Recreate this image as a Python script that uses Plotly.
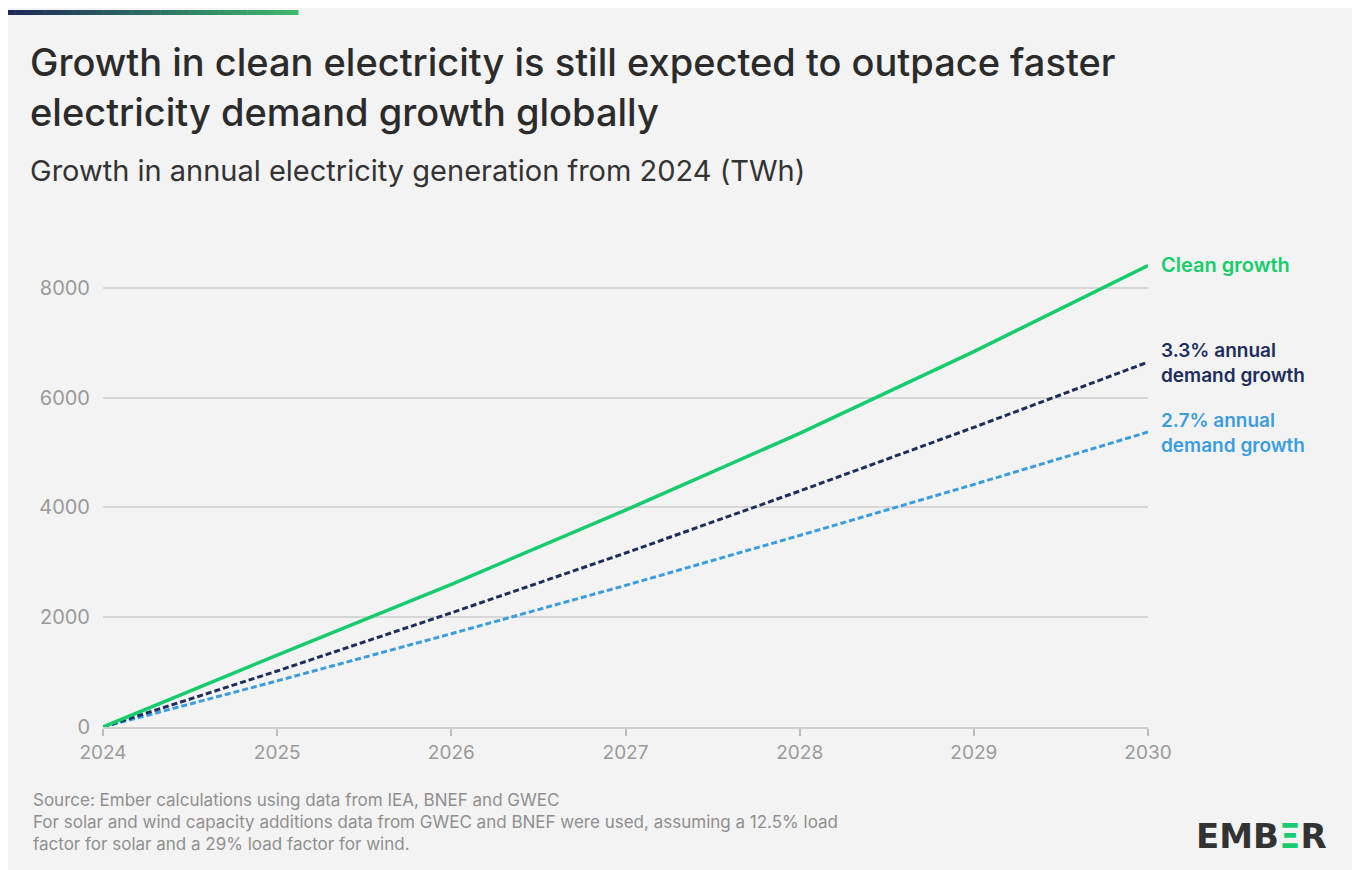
import plotly.graph_objects as go

years = [2024, 2025, 2026, 2027, 2028, 2029, 2030]
clean_growth = [0, 1310, 2600, 3950, 5350, 6840, 8410]
demand_33 = [0, 1020, 2080, 3170, 4300, 5460, 6650]
demand_27 = [0, 840, 1700, 2580, 3490, 4420, 5375]
y_ticks = [0, 2000, 4000, 6000, 8000]

title_lines = ["Growth in clean electricity is still expected to outpace faster",
               "electricity demand growth globally"]
subtitle = "Growth in annual electricity generation from 2024 (TWh)"
source_lines = ["Source: Ember calculations using data from IEA, BNEF and GWEC",
                "For solar and wind capacity additions data from GWEC and BNEF were used, assuming a 12.5% load",
                "factor for solar and a 29% load factor for wind."]
series_labels = ["Clean growth", "3.3% annual<br>demand growth", "2.7% annual<br>demand growth"]

GREEN = "#17cc6c"
NAVY = "#1d2d5c"
BLUE = "#3a9de2"
FONT = "Inter, Lato, 'Noto Sans', sans-serif"

W, H = 1360, 870
OFF = 8  # page body margin
ml, mr, mt, mb = 95, 220, 242, 151


def sx(px):  # screen px -> paper x
    return (px - OFF - ml) / (W - ml - mr)


def sy(py):  # screen px -> paper y
    return (H - mb - (py - OFF)) / (H - mt - mb)


fig = go.Figure()
fig.add_trace(go.Scatter(x=years, y=demand_27, mode="lines",
                         line=dict(color=BLUE, width=3, dash="6px,3px"), hoverinfo="skip"))
fig.add_trace(go.Scatter(x=years, y=demand_33, mode="lines",
                         line=dict(color=NAVY, width=3, dash="6px,3px"), hoverinfo="skip"))
fig.add_trace(go.Scatter(x=years, y=clean_growth, mode="lines",
                         line=dict(color=GREEN, width=3.5), hoverinfo="skip"))

anns = []


def text(xpx, ypx, txt, size, color, family=FONT, weight=None, xanchor="left"):
    f = dict(family=family, size=size, color=color)
    if weight:
        f["weight"] = weight
    anns.append(dict(x=sx(xpx), y=sy(ypx), xref="paper", yref="paper", text=txt,
                     showarrow=False, xanchor=xanchor, yanchor="middle", align="left", font=f))


# end-of-line labels
text(1159, 265, series_labels[0], 20, GREEN, weight=600)
text(1159, 363, series_labels[1], 19, NAVY, weight=600)
text(1159, 433, series_labels[2], 19, BLUE, weight=600)

# titles
text(28, 62, title_lines[0], 38, "#2b2b2b", weight=500)
text(28, 112, title_lines[1], 38, "#2b2b2b", weight=500)
text(28, 170, subtitle, 29, "#333333")

# source
text(31, 822, "<br>".join(source_lines), 17, "#8f8f8f")

# logo
text(1329, 836, "<b>EMB<span style='color:#17cc6c'>Ξ</span>R</b>", 34, "#333333",
     family="'DejaVu Sans', sans-serif", xanchor="right")

# top gradient bar
shapes = []
n = 40
x0, x1 = 8, 298
c0 = (0x1d, 0x2a, 0x5a)
c1 = (0x3d, 0xb8, 0x6c)
for i in range(n):
    t = i / (n - 1)
    c = tuple(int(c0[k] + (c1[k] - c0[k]) * t) for k in range(3))
    shapes.append(dict(type="rect", xref="paper", yref="paper",
                       x0=sx(x0 + (x1 - x0) * i / n), x1=sx(x0 + (x1 - x0) * (i + 1) / n + 0.5),
                       y0=sy(15), y1=sy(10),
                       fillcolor="rgb(%d,%d,%d)" % c, line=dict(width=0), layer="above"))

fig.update_layout(
    width=W, height=H,
    margin=dict(l=ml, r=mr, t=mt, b=mb),
    paper_bgcolor="#f3f3f3", plot_bgcolor="#f3f3f3",
    showlegend=False,
    annotations=anns,
    shapes=shapes,
    xaxis=dict(range=[2024, 2030], tickvals=years, ticktext=[str(y) for y in years],
               showgrid=False, zeroline=False, showline=True, linecolor="#cfcfcf", linewidth=1.5,
               ticks="outside", ticklen=7, tickcolor="#bdbdbd", tickwidth=1.5,
               tickfont=dict(family=FONT, size=19, color="#9a9a9a"), fixedrange=True),
    yaxis=dict(range=[0, 8692], tickvals=y_ticks, showgrid=True, gridcolor="#d6d6d6", gridwidth=1.5,
               zeroline=False, showline=False, ticks="", ticklabelstandoff=12,
               tickfont=dict(family=FONT, size=20, color="#9a9a9a"), fixedrange=True),
)

fig.write_html("out.html")
